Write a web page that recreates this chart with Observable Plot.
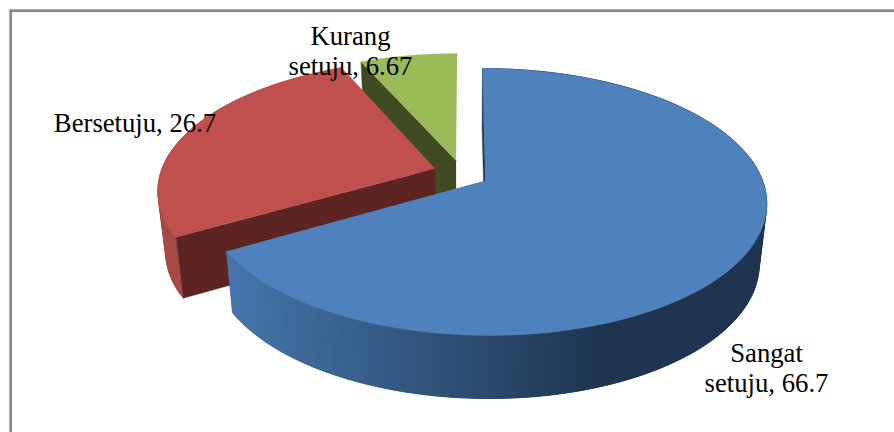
<!DOCTYPE html>
<html>
<head>
<meta charset="utf-8">
<style>html,body{margin:0;padding:0;background:#fff}svg{display:block}</style>
<script src="https://cdn.jsdelivr.net/npm/d3@7"></script>
<script src="https://cdn.jsdelivr.net/npm/@observablehq/plot@0.6"></script>
</head>
<body>
<div id="chart"></div>
<script>
// Data
const categories = ["Sangat setuju", "Bersetuju", "Kurang setuju"];
const values = [66.7, 26.7, 6.67];
const labels = ["Sangat\nsetuju, 66.7", "Bersetuju, 26.7", "Kurang\nsetuju, 6.67"];

// Styling per slice
const topColors = ["#4f81bd", "#c0504d", "#9bbb59"];
const cutColors = ["#1f3550", "#5c2524", "#404b24"];
const rimColors = [null, "#a74a48", "#7a9444"];
const explode = [[0, 0], [-0.184, 0.0937], [-0.107, 0.158]];
const labelAnchors = [[766, 366.5], [134.5, 121.5], [350, 49.5]];

// Perspective model of the tilted pie
const P = {cx: 485, cy: 180, S: 277, R: 130, k: 0.161, skew: 3.5, cxB: 484.5, fx: 0.975, cyB: 240, fy: 1.02};
const project = (u, v, bottom) => {
  const w = 1 + P.k * v;
  const dx = (P.S * u - P.skew * v) / w, dy = -P.R * v / w;
  return bottom ? {x: P.cxB + P.fx * dx, y: P.cyB + P.fy * dy} : {x: P.cx + dx, y: P.cy + dy};
};
const total = d3.sum(values);
const cum = d3.cumsum(values);
const ang = i => [(i ? cum[i - 1] : 0) / total * 2 * Math.PI, cum[i] / total * 2 * Math.PI];
const rim = (i, t, bottom) => project(explode[i][0] + Math.sin(t), explode[i][1] + Math.cos(t), bottom);
const apex = (i, bottom) => project(explode[i][0], explode[i][1], bottom);

const rows = [];
let id = 0;
const poly = (pts, fill) => { id++; pts.forEach(p => rows.push({id, x: p.x, y: p.y, fill})); };
const arc = (i, a, b) => d3.range(0, 121).map(j => rim(i, a + (b - a) * j / 120));
const wall = (i, a, b, n, shade) => {
  for (let j = 0; j < n; j++) {
    const t0 = a + (b - a) * j / n, t1 = a + (b - a) * Math.min(n, j + 3) / n;
    const p0 = rim(i, t0), p1 = rim(i, a + (b - a) * (j + 1) / n);
    poly([p0, rim(i, t1), rim(i, t1, true), rim(i, t0, true)], shade((p0.x + p1.x) / 2));
  }
};

const blueShade = x => x > 600 ? "#1f3550" : d3.interpolateRgb("#4576ab", "#1f3550")(Math.max(0, (x - 226) / 374));

// Green
{
  const i = 2, [a, b] = ang(i);
  poly([apex(i), rim(i, a), rim(i, a, true), apex(i, true)], cutColors[i]);
  poly([apex(i), ...arc(i, a, b)], topColors[i]);
}
// Red
{
  const i = 1, [a, b] = ang(i);
  wall(i, a, b, 96, () => rimColors[i]);
  poly([apex(i), rim(i, a), rim(i, a, true), apex(i, true)], cutColors[i]);
  poly([apex(i), ...arc(i, a, b)], topColors[i]);
}
// Blue
{
  const i = 0, [a, b] = ang(i);
  poly([apex(i), rim(i, a), rim(i, a, true), apex(i, true)], cutColors[i]);
  wall(i, a, b, 240, blueShade);
  poly([apex(i), ...arc(i, a, b)], topColors[i]);
}

const labelRows = labels.map((t, i) => ({t, x: labelAnchors[i][0], y: labelAnchors[i][1], c: categories[i]}));

const plot = Plot.plot({
  width: 894, height: 432,
  margin: 0,
  x: {domain: [0, 894], range: [0, 894], axis: null},
  y: {domain: [0, 432], range: [0, 432], axis: null},
  color: {type: "identity"},
  style: {background: "#fff"},
  marks: [
    Plot.line(rows, {x: "x", y: "y", z: "id", fill: "fill", stroke: "fill", strokeWidth: 0.4, curve: "linear"}),
    Plot.rect([{x1: 10.7, x2: 1000, y1: 10.7, y2: 1000}], {x1: "x1", x2: "x2", y1: "y1", y2: "y2", fill: "none", stroke: "#8a8a8a", strokeWidth: 2.8, clip: false}),
    Plot.text(labelRows, {x: "x", y: "y", text: "t", fontFamily: "Liberation Serif", fontSize: 26.7, fill: "#000", lineHeight: 1.124, textAnchor: "middle"})
  ]
});
document.getElementById("chart").append(plot);
</script>
</body>
</html>
